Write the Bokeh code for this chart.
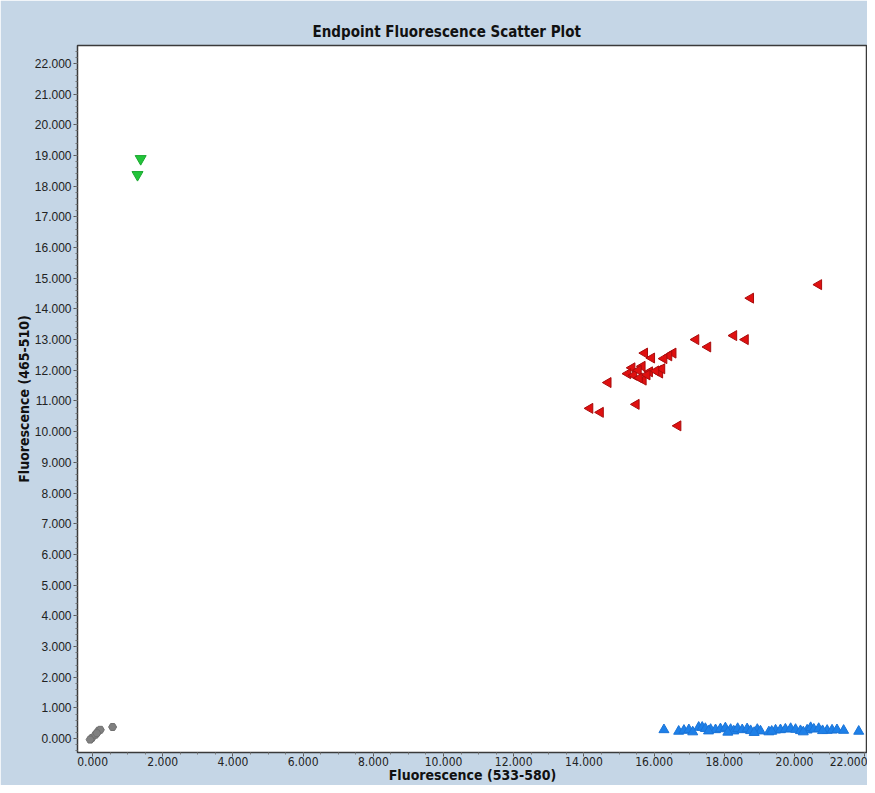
import numpy as np
from bokeh.plotting import figure
from bokeh.models import SingleIntervalTicker, NumeralTickFormatter, Range1d
from bokeh.embed import file_html
from bokeh.resources import INLINE

# Values in thousands of fluorescence units (labels read "22.000" = 22,000)
red_x = [20.69, 18.75, 18.27, 18.60, 17.19, 17.53, 16.54, 16.42, 16.28, 15.73, 15.93,
         16.13, 16.16, 15.87, 15.66, 15.37, 15.25, 15.42, 15.69, 14.69, 15.49, 14.17,
         14.47, 16.68, 15.55, 15.80, 16.22, 15.58, 16.05]
red_y = [14.79, 14.35, 13.13, 13.00, 13.00, 12.76, 12.56, 12.47, 12.38, 12.56, 12.40,
         12.00, 11.91, 11.95, 12.13, 12.08, 11.89, 11.84, 11.68, 11.60, 10.89, 10.76,
         10.63, 10.19, 12.00, 11.85, 12.05, 11.75, 11.98]

blue_x = [16.28, 16.70, 16.85, 16.99, 17.27, 17.37, 17.46, 17.61, 17.75, 17.89, 18.03,
          18.18, 18.27, 18.38, 18.51, 18.65, 18.75, 18.94, 19.03, 19.27, 19.46, 19.60,
          19.74, 19.89, 20.03, 20.17, 20.36, 20.46, 20.55, 20.69, 20.93, 21.07, 21.21,
          21.40, 21.83, 17.10, 17.55, 18.10, 18.85, 19.35, 20.25, 20.80]
blue_y = [0.29, 0.24, 0.27, 0.29, 0.37, 0.37, 0.33, 0.30, 0.29, 0.32, 0.35,
          0.30, 0.25, 0.33, 0.29, 0.32, 0.26, 0.30, 0.25, 0.22, 0.28, 0.29,
          0.31, 0.33, 0.30, 0.26, 0.28, 0.36, 0.31, 0.33, 0.27, 0.28, 0.29,
          0.27, 0.24, 0.22, 0.25, 0.21, 0.20, 0.24, 0.22, 0.26]

green_x = [1.37, 1.28]
green_y = [18.89, 18.37]

gray_x = [-0.02, 0.08, 0.17, 0.22, 0.57, -0.07, 0.12]
gray_y = [0.02, 0.13, 0.26, 0.29, 0.38, -0.03, 0.18]

BG = "#C5D6E6"
NARROW = "'Liberation Sans Narrow', 'Arial Narrow', 'DejaVu Sans Condensed', 'Liberation Sans', sans-serif"
REG = "'Liberation Sans', Arial, sans-serif"

p = figure(width=867, height=785, output_backend="svg", toolbar_location=None,
           x_range=Range1d(-0.43, 22.08), y_range=Range1d(-0.45, 22.58),
           min_border_left=77, min_border_right=0, min_border_top=45, min_border_bottom=29,
           title="Endpoint Fluorescence Scatter Plot")
p.border_fill_color = BG
p.background_fill_color = "white"
p.outline_line_color = "#3a3a3a"
p.outline_line_width = 1.5
p.xgrid.visible = False
p.ygrid.visible = False

p.title.align = "left"
p.title.offset = 235
p.title.text_font = NARROW
p.title.text_font_style = "bold"
p.title.text_font_size = "15px"
p.title.text_color = "#111111"

p.xaxis.ticker = SingleIntervalTicker(interval=2, num_minor_ticks=4)
p.yaxis.ticker = SingleIntervalTicker(interval=1, num_minor_ticks=5)
p.xaxis.formatter = NumeralTickFormatter(format="0.000")
p.yaxis.formatter = NumeralTickFormatter(format="0.000")

p.xaxis.axis_label = "Fluorescence (533-580)"
p.yaxis.axis_label = "Fluorescence (465-510)"
for ax in (p.xaxis, p.yaxis):
    ax.axis_label_text_font = NARROW
    ax.axis_label_text_font_style = "bold"
    ax.axis_label_text_font_size = "14px"
    ax.axis_label_text_color = "#111111"
    ax.axis_label_standoff = 0
    ax.major_label_text_font = REG
    ax.major_label_text_font_size = "12px"
    ax.major_label_text_color = "#222222"
    ax.axis_line_color = "#3a3a3a"
    ax.major_tick_line_color = "#555555"
    ax.minor_tick_line_color = "#777777"
    ax.major_tick_out = 4
    ax.major_tick_in = 0
    ax.minor_tick_out = 2
    ax.minor_tick_in = 0
    ax.major_label_standoff = 2
p.xaxis.major_label_text_font = NARROW
p.xaxis.major_label_text_font_size = "12px"
p.xaxis.major_label_standoff = 0
p.xaxis.axis_label_standoff = -2

p.scatter(gray_x, gray_y, marker="hex", size=8, fill_color="#808080",
          line_color="#707070")
p.scatter(blue_x, blue_y, marker="triangle", size=10, fill_color="#1E80E8",
          line_color="#1A74D8")
p.scatter(red_x, red_y, marker="triangle", angle=np.pi / 2, size=10,
          fill_color="#E01010", line_color="#A80C0C")
p.scatter(green_x, green_y, marker="inverted_triangle", size=11,
          fill_color="#22C43A", line_color="#1AA830")

open("out.html", "w").write(file_html(p, INLINE))
